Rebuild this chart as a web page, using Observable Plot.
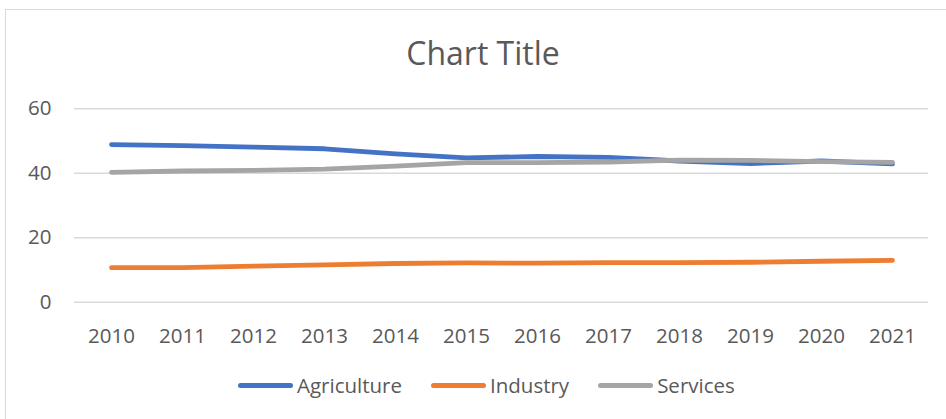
<!DOCTYPE html>
<html>
<head>
<meta charset="utf-8">
<script src="https://cdn.jsdelivr.net/npm/d3@7"></script>
<script src="https://cdn.jsdelivr.net/npm/@observablehq/plot@0.6"></script>
<style>
  html, body { margin: 0; padding: 0; background: #fff; overflow: hidden; }
  #root { position: relative; width: 946px; height: 419px; font-family: "Open Sans", sans-serif; color: #595959; }
  #frame { position: absolute; left: 5px; top: 9px; width: 960px; height: 430px; border: 1.5px solid #D9D9D9; box-sizing: border-box; }
  #title { position: absolute; left: 0; width: 966px; top: 33px; text-align: center; font-size: 32px; line-height: 40px; }
  #chart { position: absolute; left: 0; top: 80px; }
  #legend { position: absolute; left: 238px; top: 370px; height: 30px; display: flex; align-items: center; font-size: 20.5px; gap: 29px; }
  .item { display: flex; align-items: center; gap: 4px; }
  .sw { width: 55px; height: 5px; border-radius: 3px; }
</style>
</head>
<body>
<div id="root">
  <div id="frame"></div>
  <div id="title">Chart Title</div>
  <div id="chart"></div>
  <div id="legend"></div>
</div>
<script>
const years = [2010, 2011, 2012, 2013, 2014, 2015, 2016, 2017, 2018, 2019, 2020, 2021];
const agriculture = [48.9, 48.6, 48.1, 47.6, 46.0, 44.8, 45.2, 44.9, 43.8, 43.0, 43.8, 42.9];
const industry = [10.7, 10.7, 11.2, 11.6, 12.0, 12.2, 12.1, 12.3, 12.3, 12.4, 12.7, 13.0];
const services = [40.3, 40.7, 40.9, 41.3, 42.2, 43.3, 43.3, 43.5, 44.1, 44.0, 43.6, 43.4];
const seriesNames = ["Agriculture", "Industry", "Services"];
const seriesColors = ["#4472C4", "#ED7D31", "#A5A5A5"];
const yTicks = [0, 20, 40, 60];

const seriesValues = [agriculture, industry, services];
const rows = [];
seriesNames.forEach((name, i) => {
  years.forEach((yr, j) => rows.push({year: String(yr), sector: name, value: seriesValues[i][j]}));
});

const chart = Plot.plot({
  width: 946,
  height: 270,
  marginLeft: 74,
  marginRight: 18,
  marginTop: 28.3,
  marginBottom: 48.3,
  style: {fontFamily: "Open Sans", fontSize: "20.5px", color: "#595959", background: "transparent", overflow: "visible"},
  x: {type: "point", domain: years.map(String), padding: 0.5, label: null, tickSize: 0, tickPadding: 26},
  y: {domain: [0, 60], ticks: yTicks, label: null, tickSize: 0, tickPadding: 23},
  color: {domain: seriesNames, range: seriesColors},
  marks: [
    Plot.ruleY(yTicks, {stroke: "#D9D9D9", strokeWidth: 1.5}),
    Plot.axisX({tickSize: 0, tickPadding: 26, fill: "#595959"}),
    Plot.axisY({ticks: yTicks, tickSize: 0, tickPadding: 23, fill: "#595959"}),
    Plot.line(rows, {x: "year", y: "value", z: "sector", stroke: "sector", strokeWidth: 4.8, strokeLinecap: "round", strokeLinejoin: "round"})
  ]
});
document.getElementById("chart").appendChild(chart);

const legend = document.getElementById("legend");
seriesNames.forEach((name, i) => {
  const item = document.createElement("div");
  item.className = "item";
  const sw = document.createElement("span");
  sw.className = "sw";
  sw.style.background = seriesColors[i];
  const label = document.createElement("span");
  label.textContent = name;
  item.appendChild(sw);
  item.appendChild(label);
  legend.appendChild(item);
});
</script>
</body>
</html>
